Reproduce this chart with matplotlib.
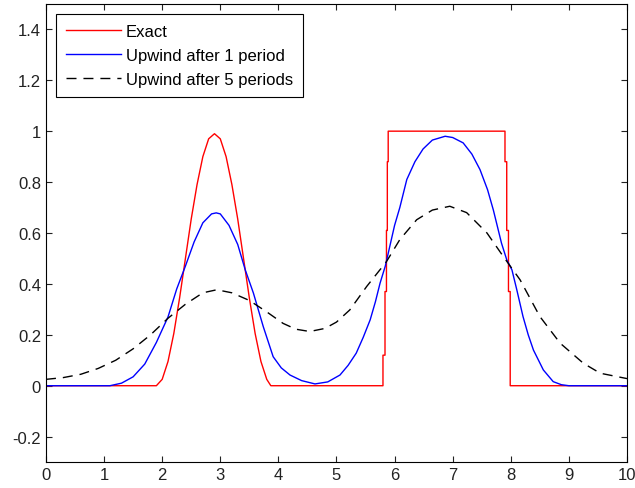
import matplotlib
matplotlib.use("Agg")
import matplotlib.pyplot as plt

# ---- data ----
exact_x = [0.0, 1.9, 2.0, 2.1, 2.2, 2.3, 2.4, 2.5, 2.6, 2.7, 2.8, 2.9, 3.0,
           3.1, 3.2, 3.3, 3.4, 3.5, 3.6, 3.7, 3.8, 3.87,
           5.80, 5.80, 5.835, 5.835, 5.86, 5.86, 5.875, 5.875, 5.89, 5.89,
           7.90, 7.90, 7.93, 7.93, 7.96, 7.96, 7.99, 7.99, 10.0]
exact_y = [0.0, 0.0, 0.025, 0.095, 0.205, 0.345, 0.50, 0.655, 0.79, 0.90,
           0.97, 0.99, 0.97, 0.90, 0.79, 0.655, 0.50, 0.345, 0.205, 0.095,
           0.025, 0.0,
           0.0, 0.12, 0.12, 0.37, 0.37, 0.61, 0.61, 0.88, 0.88, 1.0,
           1.0, 0.88, 0.88, 0.61, 0.61, 0.37, 0.37, 0.0, 0.0]

up1_x = [0.0, 1.1, 1.3, 1.5, 1.7, 1.9, 2.0, 2.1, 2.25, 2.4, 2.55, 2.7, 2.85,
         2.93, 3.0, 3.15, 3.3, 3.43, 3.57, 3.74, 3.91, 4.05, 4.2, 4.4, 4.63,
         4.85, 5.06, 5.2, 5.34, 5.46, 5.58, 5.67, 5.75, 5.84, 5.9, 6.0, 6.09,
         6.21, 6.35, 6.49, 6.65, 6.87, 7.0, 7.18, 7.33, 7.47, 7.6, 7.7, 7.84,
         7.93, 8.02, 8.1, 8.21, 8.3, 8.39, 8.56, 8.73, 8.87, 9.0, 10.0]
up1_y = [0.0, 0.0, 0.01, 0.035, 0.085, 0.17, 0.22, 0.27, 0.38, 0.47, 0.565,
         0.64, 0.675, 0.679, 0.675, 0.63, 0.555, 0.455, 0.364, 0.232, 0.114,
         0.07, 0.042, 0.02, 0.007, 0.015, 0.042, 0.08, 0.128, 0.19, 0.259,
         0.33, 0.403, 0.47, 0.53, 0.63, 0.70, 0.81, 0.88, 0.93, 0.965, 0.98,
         0.975, 0.954, 0.91, 0.849, 0.77, 0.69, 0.56, 0.495, 0.455, 0.38,
         0.272, 0.20, 0.14, 0.062, 0.016, 0.004, 0.0, 0.0]

up5_x = [0.0, 0.3, 0.6, 0.9, 1.2, 1.5, 1.8, 2.1, 2.4, 2.7, 2.94, 3.2, 3.5,
         3.8, 4.08, 4.3, 4.54, 4.8, 5.0, 5.23, 5.52, 5.75, 5.84, 6.09, 6.38,
         6.65, 6.95, 7.24, 7.59, 7.87, 8.16, 8.5, 8.85, 9.25, 9.54, 10.0]
up5_y = [0.025, 0.032, 0.045, 0.068, 0.10, 0.145, 0.20, 0.265, 0.32, 0.365,
         0.377, 0.365, 0.335, 0.29, 0.245, 0.222, 0.213, 0.225, 0.25, 0.298,
         0.39, 0.456, 0.48, 0.574, 0.652, 0.69, 0.705, 0.68, 0.60, 0.508,
         0.416, 0.272, 0.167, 0.088, 0.049, 0.028]

series_labels = ["Exact", "Upwind after 1 period", "Upwind after 5 periods"]
x_ticks = list(range(0, 11))
y_ticks = [-0.2, 0, 0.2, 0.4, 0.6, 0.8, 1.0, 1.2, 1.4]
y_tick_labels = ["-0.2", "0", "0.2", "0.4", "0.6", "0.8", "1", "1.2", "1.4"]

plt.rcParams['font.family'] = ['Liberation Sans', 'DejaVu Sans']

fig = plt.figure(figsize=(6.35, 4.89), dpi=100)
ax = fig.add_axes([0.0724, 0.053, 0.915, 0.937])

ax.plot(exact_x, exact_y, color='red', lw=1.0, label=series_labels[0])
ax.plot(up1_x, up1_y, color='blue', lw=1.0, label=series_labels[1])
ax.plot(up5_x, up5_y, color='black', lw=1.0, linestyle=(0, (7.2, 5)),
        label=series_labels[2])

ax.set_xlim(0, 10)
ax.set_ylim(-0.3, 1.5)
ax.set_xticks(x_ticks)
ax.set_yticks(y_ticks)
ax.set_yticklabels(y_tick_labels)
ax.tick_params(direction='in', top=True, right=True, length=4,
               labelsize=12, width=0.8, colors='#222222')

leg = ax.legend(loc='upper left', fontsize=12, handlelength=3.3,
                fancybox=False, framealpha=1, edgecolor='black',
                borderpad=0.6, labelspacing=0.55, handletextpad=0.3,
                borderaxespad=0.6)
leg.get_frame().set_linewidth(0.8)

fig.savefig("out.png", dpi=100)
